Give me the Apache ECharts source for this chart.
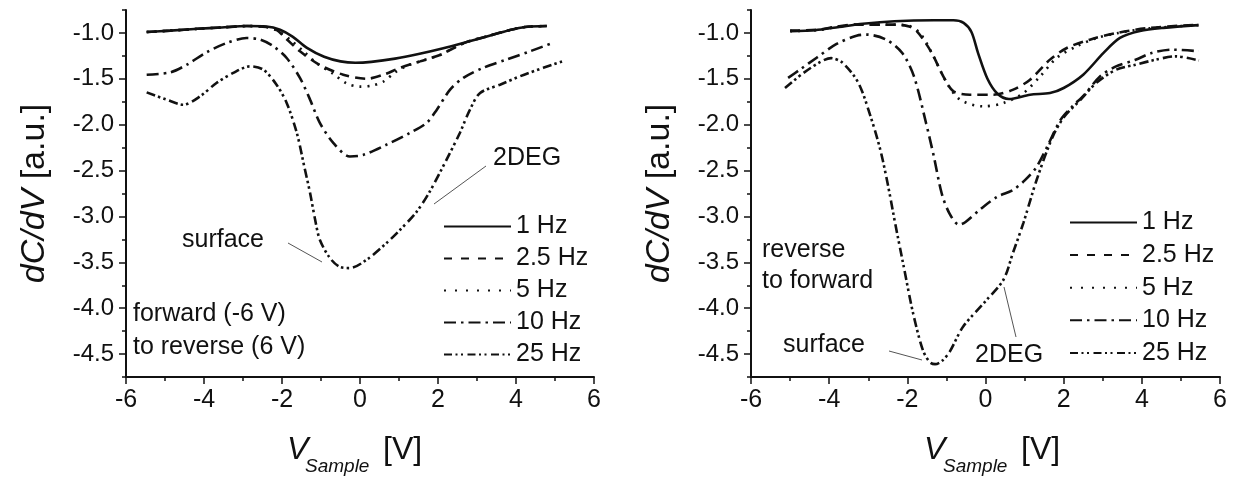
<!DOCTYPE html>
<html><head><meta charset="utf-8">
<script src="https://cdn.jsdelivr.net/npm/echarts@6/dist/echarts.min.js"></script>
<style>html,body{margin:0;padding:0;background:#fff}#c{width:1238px;height:479px}</style>
</head><body><div id="c"></div><script>
// ---- data ----
const seriesNames = ['1 Hz', '2.5 Hz', '5 Hz', '10 Hz', '25 Hz'];
const xTicks = [-6, -4, -2, 0, 2, 4, 6];
const yTickLabels = [-4.5, -4.0, -3.5, -3.0, -2.5, -2.0, -1.5, -1.0];
const yMinorTicks = [-4.75, -4.25, -3.75, -3.25, -2.75, -2.25, -1.75, -1.25, -0.75];

// forward (-6 V) to reverse (6 V)
const fwd1Hz = [[-5.47,-0.99],[-4.87,-0.975],[-4.16,-0.955],[-3.55,-0.94],[-2.9,-0.925],[-2.4,-0.93],[-2.05,-0.965],[-1.73,-1.04],[-1.37,-1.16],[-0.92,-1.26],[-0.5,-1.31],[-0.12,-1.325],[0.29,-1.315],[0.9,-1.28],[1.5,-1.23],[2.11,-1.17],[2.73,-1.1],[3.32,-1.03],[3.83,-0.97],[4.23,-0.935],[4.79,-0.925]];
const fwd2p5Hz = [[-5.47,-0.99],[-4.87,-0.975],[-4.16,-0.955],[-3.55,-0.94],[-2.9,-0.925],[-2.4,-0.935],[-2.15,-0.965],[-1.9,-1.06],[-1.54,-1.2],[-1.03,-1.35],[-0.43,-1.455],[0.17,-1.5],[0.6,-1.455],[1.03,-1.38],[1.54,-1.31],[2.05,-1.24],[2.38,-1.17],[2.73,-1.1],[3.32,-1.03],[3.83,-0.97],[4.23,-0.935],[4.79,-0.925]];
const fwd5Hz = [[-5.47,-0.99],[-4.87,-0.975],[-4.16,-0.955],[-3.55,-0.94],[-2.9,-0.925],[-2.4,-0.935],[-2.1,-0.98],[-1.8,-1.07],[-1.45,-1.2],[-1.11,-1.33],[-0.69,-1.445],[-0.34,-1.55],[0.0,-1.585],[0.3,-1.575],[0.6,-1.53],[0.9,-1.43],[1.2,-1.36],[1.54,-1.31],[2.05,-1.24],[2.38,-1.17],[2.73,-1.1],[3.32,-1.03],[3.83,-0.97],[4.23,-0.935],[4.79,-0.925]];
const fwd10Hz = [[-5.47,-1.455],[-4.87,-1.43],[-4.44,-1.346],[-3.93,-1.21],[-3.42,-1.11],[-2.91,-1.055],[-2.56,-1.073],[-2.22,-1.146],[-1.88,-1.273],[-1.54,-1.49],[-1.28,-1.727],[-1.03,-1.98],[-0.68,-2.2],[-0.26,-2.346],[0.08,-2.33],[0.68,-2.218],[1.28,-2.09],[1.71,-1.98],[1.97,-1.836],[2.31,-1.618],[2.65,-1.49],[3.16,-1.38],[3.76,-1.29],[4.36,-1.2],[4.87,-1.12]];
const fwd25Hz = [[-5.47,-1.648],[-4.96,-1.727],[-4.53,-1.782],[-4.1,-1.691],[-3.68,-1.545],[-3.25,-1.436],[-2.82,-1.364],[-2.48,-1.4],[-2.14,-1.564],[-1.88,-1.763],[-1.62,-2.09],[-1.43,-2.454],[-1.28,-2.745],[-1.15,-3.036],[-1.03,-3.254],[-0.77,-3.454],[-0.51,-3.552],[-0.26,-3.563],[0.17,-3.472],[0.68,-3.29],[1.03,-3.145],[1.45,-2.95],[1.8,-2.72],[2.22,-2.38],[2.56,-2.09],[2.82,-1.836],[3.08,-1.654],[3.59,-1.564],[4.1,-1.473],[4.7,-1.38],[5.26,-1.3]];

// reverse to forward
const rev1Hz = [[-4.99,-0.98],[-4.36,-0.97],[-3.75,-0.935],[-3.14,-0.9],[-2.33,-0.872],[-1.32,-0.862],[-0.82,-0.862],[-0.56,-0.89],[-0.36,-0.99],[-0.19,-1.22],[0.05,-1.5],[0.3,-1.66],[0.6,-1.72],[1.14,-1.673],[1.65,-1.655],[2.0,-1.6],[2.5,-1.455],[3.02,-1.218],[3.44,-1.055],[3.95,-0.98],[4.55,-0.945],[5.45,-0.915]];
const rev2p5Hz = [[-5.0,-0.975],[-4.3,-0.965],[-3.8,-0.93],[-3.3,-0.909],[-2.27,-0.909],[-1.95,-0.93],[-1.76,-0.98],[-1.5,-1.13],[-1.33,-1.255],[-1.08,-1.473],[-0.82,-1.637],[-0.4,-1.673],[0.2,-1.673],[0.71,-1.618],[1.14,-1.509],[1.65,-1.291],[2.08,-1.164],[2.67,-1.073],[3.36,-1.0],[4.21,-0.945],[5.45,-0.91]];
const rev5Hz = [[-5.0,-0.98],[-4.3,-0.97],[-3.8,-0.935],[-3.3,-0.91],[-2.6,-0.91],[-2.0,-0.92],[-1.7,-0.99],[-1.42,-1.18],[-0.99,-1.545],[-0.65,-1.727],[-0.06,-1.8],[0.46,-1.764],[0.97,-1.655],[1.4,-1.473],[1.82,-1.273],[2.33,-1.146],[2.85,-1.055],[3.4,-1.0],[4.2,-0.95],[5.45,-0.915]];
const rev10Hz = [[-5.05,-1.49],[-4.75,-1.4],[-4.32,-1.27],[-3.81,-1.12],[-3.3,-1.03],[-3.04,-1.018],[-2.54,-1.073],[-2.13,-1.219],[-1.83,-1.474],[-1.52,-1.984],[-1.32,-2.349],[-1.12,-2.75],[-0.92,-2.969],[-0.68,-3.09],[-0.51,-3.06],[-0.11,-2.914],[0.3,-2.786],[0.7,-2.713],[1.01,-2.604],[1.31,-2.458],[1.62,-2.203],[1.92,-1.948],[2.22,-1.802],[2.53,-1.674],[2.93,-1.474],[3.34,-1.365],[3.84,-1.292],[4.25,-1.219],[4.76,-1.182],[5.46,-1.2]];
const rev25Hz = [[-5.13,-1.6],[-4.66,-1.437],[-4.2,-1.31],[-3.95,-1.275],[-3.65,-1.328],[-3.25,-1.547],[-2.94,-1.911],[-2.69,-2.276],[-2.5,-2.65],[-2.3,-3.1],[-2.1,-3.53],[-1.85,-4.06],[-1.6,-4.46],[-1.42,-4.59],[-1.29,-4.61],[-1.1,-4.57],[-0.91,-4.47],[-0.57,-4.2],[0.03,-3.91],[0.46,-3.69],[0.7,-3.4],[0.97,-3.07],[1.31,-2.6],[1.72,-2.13],[2.02,-1.911],[2.43,-1.729],[2.83,-1.547],[3.34,-1.401],[3.84,-1.346],[4.35,-1.292],[4.86,-1.255],[5.46,-1.3]];

const fwdData = [fwd1Hz, fwd2p5Hz, fwd5Hz, fwd10Hz, fwd25Hz];
const revData = [rev1Hz, rev2p5Hz, rev5Hz, rev10Hz, rev25Hz];

// ---- styles ----
const INK = '#111';
const FONT = '"Liberation Sans", Arial, sans-serif';
const curveDash = ['solid', [10, 6], [2, 6], [12, 5, 2.5, 5], [9, 3, 2.5, 3, 2.5, 4]];
const legendDash = ['solid', [8, 9], [2, 9], [12, 5, 2.5, 5], [8, 3.5, 2, 3.5, 2, 4.5]];

const chart = echarts.init(document.getElementById('c'), null, {renderer: 'canvas'});

function xAxisFor(gi) {
  return {
    type: 'value', gridIndex: gi, min: xTicks[0], max: xTicks[xTicks.length - 1], interval: 2,
    axisLine: {onZero: false, lineStyle: {color: INK, width: 2}},
    axisTick: {length: 7, lineStyle: {color: INK, width: 1.5}},
    minorTick: {show: true, splitNumber: 2, length: 4, lineStyle: {color: INK, width: 1.5}},
    splitLine: {show: false},
    axisLabel: {color: INK, fontSize: 25, fontFamily: FONT, margin: 11},
  };
}
function yAxesFor(gi) {
  return [{
    type: 'value', gridIndex: gi, position: 'left', min: -4.75, max: -0.75, interval: 0.25,
    axisLine: {onZero: false, lineStyle: {color: INK, width: 2}},
    axisTick: {length: 7, customValues: yTickLabels, lineStyle: {color: INK, width: 1.5}},
    splitLine: {show: false},
    axisLabel: {customValues: yTickLabels, color: INK, fontSize: 24, fontFamily: FONT, margin: 12,
      formatter: v => v.toFixed(1)},
    name: '{i|dC/dV} [a.u.]', nameLocation: 'middle', nameRotate: 90, nameGap: 74,
    nameTextStyle: {color: INK, fontSize: 34, fontFamily: FONT,
      rich: {i: {fontStyle: 'italic', fontSize: 34, fontFamily: FONT, color: INK}}}
  }, {
    type: 'value', gridIndex: gi, position: 'left', offset: 0, min: -4.75, max: -0.75, interval: 0.25,
    axisLine: {show: false, onZero: false},
    axisTick: {length: 4, customValues: yMinorTicks, lineStyle: {color: INK, width: 1.5}},
    splitLine: {show: false}, axisLabel: {show: false}
  }];
}

const series = [];
[fwdData, revData].forEach((set, gi) => {
  set.forEach((d, k) => {
    series.push({
      name: seriesNames[k], type: 'line', xAxisIndex: gi, yAxisIndex: gi * 2,
      data: d, symbol: 'none', showSymbol: false, smooth: 0.3, z: 3,
      itemStyle: {color: INK, opacity: 0},
      lineStyle: {color: INK, width: 2.6, type: curveDash[k], opacity: 1}
    });
  });
});

function legendFor(left, top, gap) {
  return {
    orient: 'vertical', left: left, top: top, itemWidth: 67, itemHeight: 25, itemGap: gap,
    selectedMode: false, padding: 0,
    textStyle: {color: INK, fontSize: 25, fontFamily: FONT, lineHeight: 25},
    data: seriesNames.map((n, k) => ({name: n,
      itemStyle: {opacity: 0},
      lineStyle: {color: INK, width: 2, type: legendDash[k], opacity: 1}}))
  };
}

function txt(text, x, y, size, italic) {
  return {type: 'text', silent: true, style: {text: text, x: x, y: y, fill: INK,
    font: (italic ? 'italic ' : '') + size + 'px ' + FONT, verticalAlign: 'middle', align: 'left'}};
}
function leader(x1, y1, x2, y2) {
  return {type: 'line', silent: true, shape: {x1: x1, y1: y1, x2: x2, y2: y2},
    style: {stroke: '#555', lineWidth: 1}};
}

const graphics = [
  // left panel
  txt('2DEG', 493, 158, 25), leader(486, 166, 434, 204),
  txt('surface', 182, 240, 25), leader(288, 243, 322, 262),
  txt('forward (-6 V)', 133, 314, 25), txt('to reverse (6 V)', 133, 347, 25),
  txt('V', 287, 450, 32, true), txt('Sample', 305, 467, 19, true), txt('[V]', 383, 450, 32),
  // right panel
  txt('reverse', 762, 250, 25), txt('to forward', 762, 281, 25),
  txt('surface', 783, 345, 25), leader(889, 351, 922, 360),
  txt('2DEG', 975, 355, 25), leader(1004, 287, 1016, 337),
  txt('V', 924, 450, 32, true), txt('Sample', 943, 467, 19, true), txt('[V]', 1021, 450, 32)
];

chart.setOption({
  animation: false,
  backgroundColor: '#fff',
  grid: [
    {left: 126, top: 10, width: 468, height: 367, containLabel: false},
    {left: 751, top: 10, width: 469, height: 367, containLabel: false}
  ],
  xAxis: [xAxisFor(0), xAxisFor(1)],
  yAxis: [].concat(yAxesFor(0), yAxesFor(1)),
  legend: [legendFor(443, 214, 7), legendFor(1069, 210, 7.6)],
  series: series,
  graphic: graphics
});
</script></body></html>
